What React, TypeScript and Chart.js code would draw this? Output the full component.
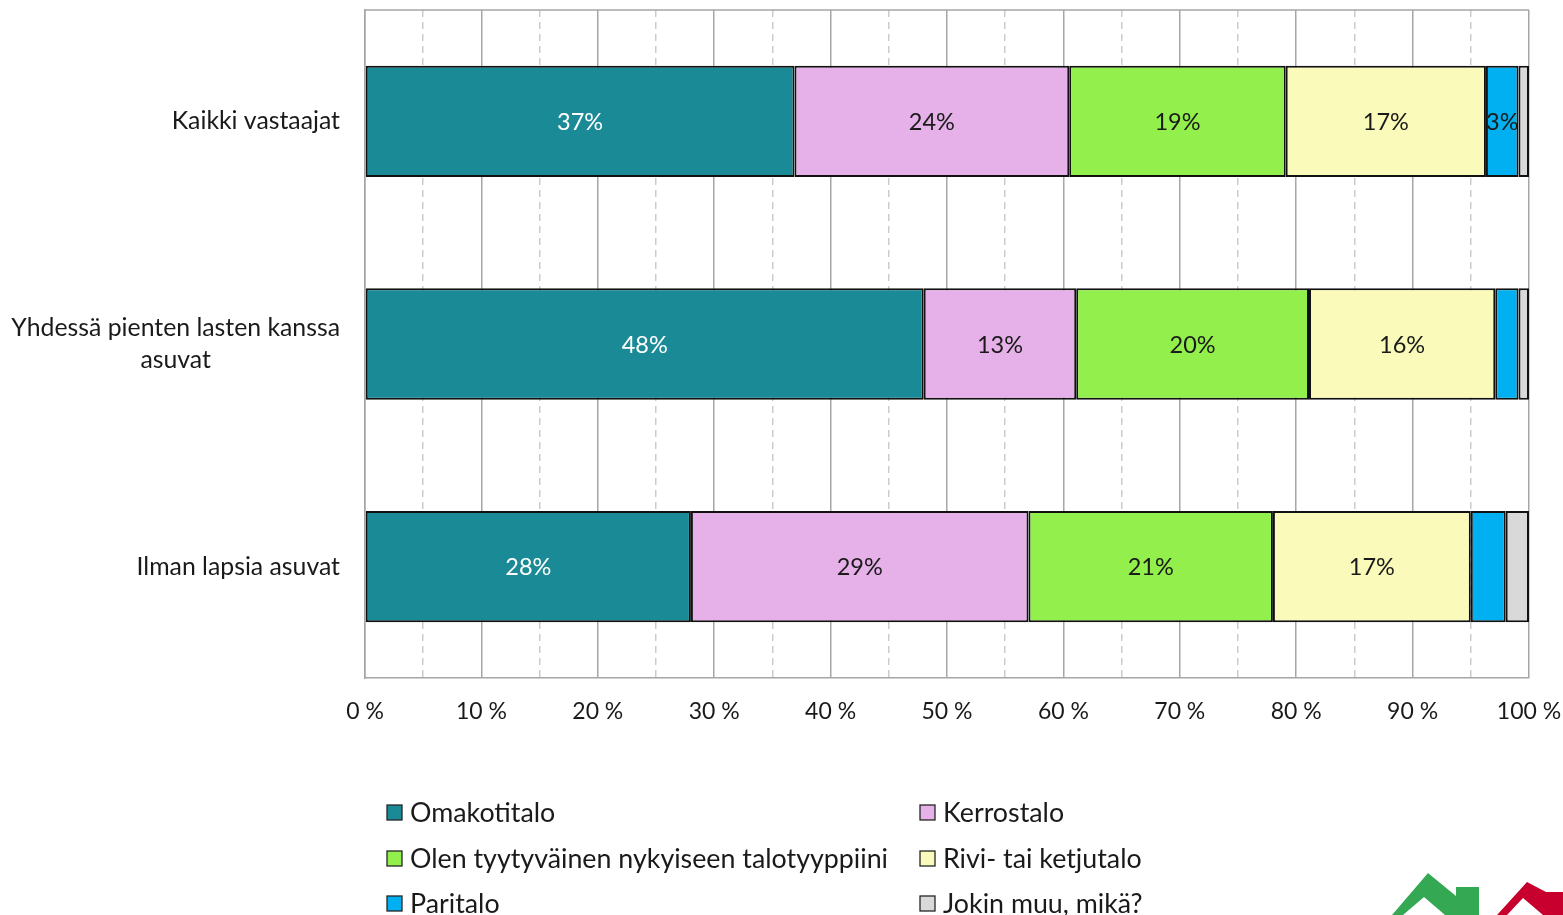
import React, { useEffect, useRef } from "react";
import { Chart, registerables } from "chart.js";

Chart.register(...registerables);

const categories: string[][] = [
  ["Kaikki vastaajat"],
  ["Yhdessä pienten lasten kanssa", "asuvat"],
  ["Ilman lapsia asuvat"],
];

const seriesNames = [
  "Omakotitalo",
  "Kerrostalo",
  "Olen tyytyväinen nykyiseen talotyyppiini",
  "Rivi- tai ketjutalo",
  "Paritalo",
  "Jokin muu, mikä?",
];

const omakotitalo = [36.9, 48.0, 28.0];
const kerrostalo = [23.6, 13.1, 29.0];
const tyytyvainen = [18.6, 20.0, 21.0];
const rivitalo = [17.2, 16.0, 17.0];
const paritalo = [2.8, 2.0, 3.0];
const jokinMuu = [0.9, 0.9, 2.0];

const seriesColors = ["#1A8A96", "#E6B0E8", "#93F04C", "#FAFABA", "#00B0F0", "#D9D9D9"];
const labelColors = ["#ffffff", "#1a1a1a", "#1a1a1a", "#1a1a1a", "#1a1a1a", "#1a1a1a"];
// which value labels are shown (per series, per category)
const labelShown = [
  [true, true, true],
  [true, true, true],
  [true, true, true],
  [true, true, true],
  [true, false, false],
  [false, false, false],
];

const xTicks = [0, 10, 20, 30, 40, 50, 60, 70, 80, 90, 100];

const FONT = "Lato, 'Noto Sans', sans-serif";

export default function App() {
  const ref = useRef<HTMLCanvasElement | null>(null);

  useEffect(() => {
    document.body.style.margin = "0";
    const canvas = ref.current;
    if (!canvas) return;
    const values = [omakotitalo, kerrostalo, tyytyvainen, rivitalo, paritalo, jokinMuu];

    const decorPlugin = {
      id: "decor",
      beforeDatasetsDraw(chart: any) {
        const { ctx, chartArea } = chart;
        ctx.save();
        ctx.strokeStyle = "#a6a6a6";
        ctx.lineWidth = 1.5;
        ctx.beginPath();
        ctx.moveTo(chartArea.left, chartArea.top);
        ctx.lineTo(chartArea.right, chartArea.top);
        ctx.stroke();
        ctx.restore();
      },
      afterDatasetsDraw(chart: any) {
        const { ctx } = chart;
        ctx.save();
        ctx.font = `23.5px ${FONT}`;
        ctx.textAlign = "center";
        ctx.textBaseline = "middle";
        chart.data.datasets.forEach((ds: any, di: number) => {
          const meta = chart.getDatasetMeta(di);
          meta.data.forEach((bar: any, i: number) => {
            if (!labelShown[di][i]) return;
            const v = ds.data[i];
            ctx.fillStyle = labelColors[di];
            const cx = (bar.x + bar.base) / 2;
            ctx.fillText(Math.round(v) + "%", cx, bar.y + 1);
          });
        });
        ctx.restore();
      },
      afterDraw(chart: any) {
        const { ctx } = chart;
        const yScale = chart.scales.y;
        ctx.save();
        ctx.font = `24.8px ${FONT}`;
        ctx.fillStyle = "#1a1a1a";
        ctx.textBaseline = "middle";
        ctx.textAlign = "center";
        const right = 340;
        const lh = 32;
        categories.forEach((lines, i) => {
          const cy = yScale.getPixelForValue(i);
          const maxW = Math.max(...lines.map((l) => ctx.measureText(l).width));
          const cx = right - maxW / 2;
          const y0 = cy - ((lines.length - 1) * lh) / 2;
          lines.forEach((l, k) => ctx.fillText(l, cx, y0 + k * lh));
        });

        // legend
        const colX = [387, 920];
        const rowY = [812, 858, 903];
        ctx.textAlign = "left";
        ctx.font = `26.8px ${FONT}`;
        seriesNames.forEach((name, i) => {
          const x = colX[i % 2];
          const y = rowY[Math.floor(i / 2)];
          ctx.fillStyle = seriesColors[i];
          ctx.fillRect(x, y - 7, 15, 15);
          ctx.strokeStyle = "#262626";
          ctx.lineWidth = 1.3;
          ctx.strokeRect(x, y - 7, 15, 15);
          ctx.fillStyle = "#1a1a1a";
          ctx.fillText(name, x + 23, y + 1);
        });

        // logo
        ctx.fillStyle = "#34A853";
        ctx.beginPath();
        const g = [[1392, 915], [1428, 873], [1456, 896], [1456, 887], [1479, 887], [1479, 915], [1445, 915], [1424, 897], [1403, 915]];
        g.forEach(([x, y], k) => (k ? ctx.lineTo(x, y) : ctx.moveTo(x, y)));
        ctx.closePath();
        ctx.fill();
        ctx.fillStyle = "#C8002E";
        ctx.beginPath();
        const r = [[1497, 915], [1527, 882], [1546, 892], [1563, 892], [1563, 915], [1543, 915], [1523, 898], [1507, 915]];
        r.forEach(([x, y], k) => (k ? ctx.lineTo(x, y) : ctx.moveTo(x, y)));
        ctx.closePath();
        ctx.fill();
        ctx.restore();
      },
    };

    const chart = new Chart(canvas, {
      type: "bar",
      data: {
        labels: categories.map((c) => c.join(" ")),
        datasets: seriesNames.map((name, i) => ({
          label: name,
          data: values[i],
          backgroundColor: seriesColors[i],
          borderColor: "#111111",
          borderWidth: 2,
          borderSkipped: false,
          categoryPercentage: 1,
          barPercentage: 0.5,
        })),
      },
      options: {
        indexAxis: "y",
        animation: false,
        responsive: true,
        maintainAspectRatio: false,
        layout: { padding: { top: 10, right: 34, left: 0, bottom: 0 } },
        plugins: {
          legend: { display: false },
          tooltip: { enabled: false },
        },
        scales: {
          x: {
            stacked: true,
            min: 0,
            max: 100,
            afterBuildTicks(scale: any) {
              const t: any[] = [];
              for (let v = 0; v <= 100; v += 5) t.push({ value: v });
              scale.ticks = t;
            },
            afterFit(scale: any) {
              scale.height = 237;
              scale.paddingLeft = 0;
              scale.paddingRight = 0;
            },
            ticks: {
              autoSkip: false,
              maxRotation: 0,
              padding: 20,
              color: "#1a1a1a",
              font: { family: FONT, size: 23 },
              callback: (v: any) => (xTicks.includes(Number(v)) ? `${v} %` : ""),
            },
            grid: {
              drawTicks: false,
              color: (c: any) => (c.tick && c.tick.value % 10 !== 0 ? "#cccccc" : "#a6a6a6"),
              lineWidth: 1.5,
            },
            border: {
              display: true,
              color: "#a6a6a6",
              width: 1.5,
              dash: (c: any) => (c.tick && c.tick.value % 10 !== 0 ? [7, 5] : []),
            },
          },
          y: {
            stacked: true,
            afterFit(scale: any) {
              scale.width = 365;
            },
            ticks: { display: false },
            grid: { display: false, drawTicks: false },
            border: { display: true, color: "#a6a6a6", width: 1.5 },
          },
        },
      },
      plugins: [decorPlugin],
    });
    return () => chart.destroy();
  }, []);

  return (
    <div style={{ width: 1563, height: 915, position: "relative" }}>
      <canvas ref={ref} />
    </div>
  );
}
